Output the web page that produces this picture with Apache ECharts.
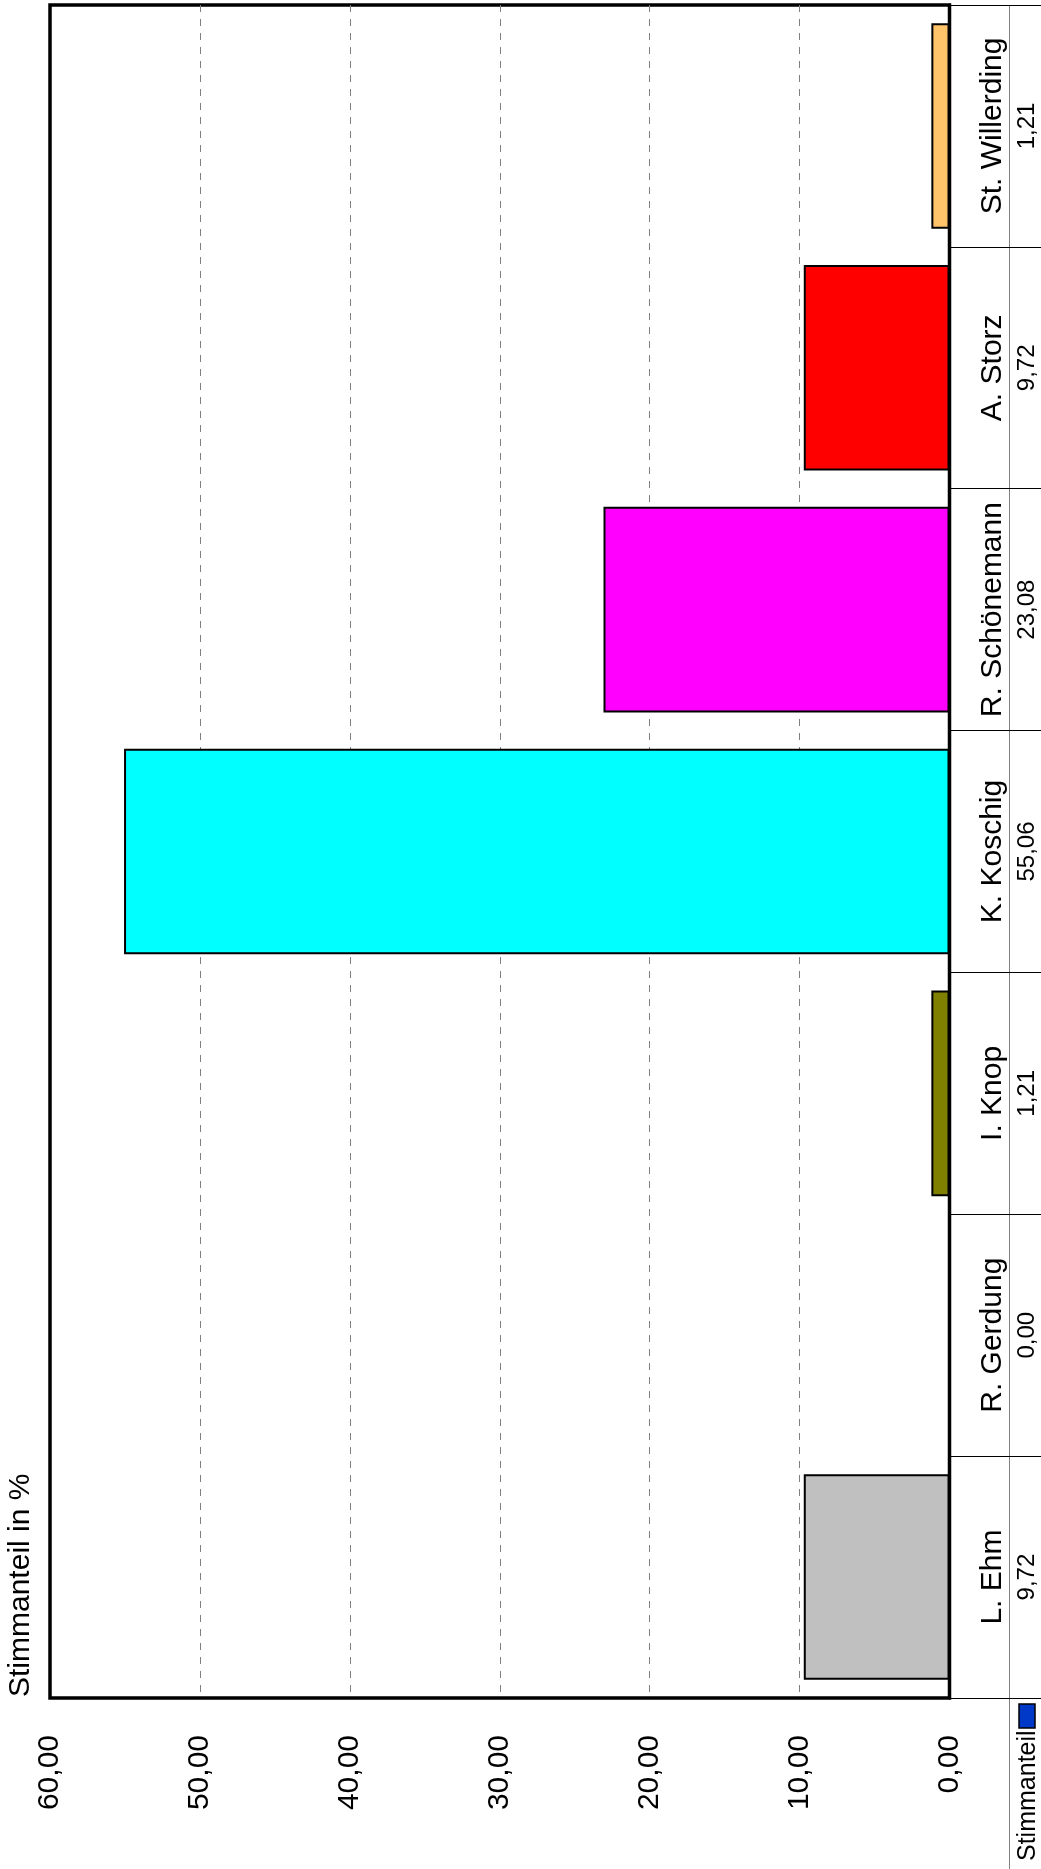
<!DOCTYPE html>
<html>
<head>
<meta charset="utf-8">
<script src="https://cdn.jsdelivr.net/npm/echarts@6/dist/echarts.min.js"></script>
<style>
html,body{margin:0;padding:0;background:#fff;}
#chart{width:1041px;height:1869px;}
</style>
</head>
<body>
<div id="chart"></div>
<script>
const categories = ['L. Ehm', 'R. Gerdung', 'I. Knop', 'K. Koschig', 'R. Schönemann', 'A. Storz', 'St. Willerding'];
const values = [9.72, 0.00, 1.21, 55.06, 23.08, 9.72, 1.21];
const barColors = ['#C0C0C0', '#808080', '#808000', '#00FFFF', '#FF00FF', '#FF0000', '#FFC36A'];
const valueTicks = [0, 10, 20, 30, 40, 50, 60];
const seriesName = 'Stimmanteil';
const axisTitle = 'Stimmanteil in %';

const FONT = '"Liberation Sans", Arial, sans-serif';
const fmt = v => v.toFixed(2).replace('.', ',');

const chart = echarts.init(document.getElementById('chart'), null, {renderer: 'canvas'});
chart.setOption({
  animation: false,
  backgroundColor: '#fff',
  grid: {
    left: 50, top: 5, right: 91.5, bottom: 171,
    show: true, borderColor: '#000', borderWidth: 3.5, backgroundColor: 'transparent',
    containLabel: false
  },
  xAxis: {
    type: 'value',
    inverse: true,
    min: valueTicks[0],
    max: valueTicks[valueTicks.length - 1],
    interval: 10,
    position: 'bottom',
    axisLine: {show: false},
    axisTick: {show: false},
    axisLabel: {
      rotate: 90,
      margin: 37,
      align: 'right',
      verticalAlign: 'middle',
      fontFamily: FONT,
      fontSize: 30,
      color: '#000',
      formatter: v => fmt(v)
    },
    splitLine: {show: true, showMinLine: false, showMaxLine: false,
      lineStyle: {color: '#808080', width: 1, type: [7, 7]}}
  },
  yAxis: {
    type: 'category',
    data: categories,
    position: 'right',
    axisLine: {show: true, lineStyle: {color: '#000', width: 3}},
    axisTick: {show: true, length: 92, lineStyle: {color: '#000', width: 1}},
    splitLine: {show: false},
    axisLabel: {
      interval: 0,
      rotate: 90,
      margin: 25,
      align: 'center',
      verticalAlign: 'top',
      color: '#000',
      fontFamily: FONT,
      formatter: (val, idx) => '{n|' + val + '}\n{v|' + fmt(values[idx]) + '}',
      rich: {
        n: {fontSize: 30, lineHeight: 36, fontFamily: FONT, color: '#000', align: 'center'},
        v: {fontSize: 24, lineHeight: 34, fontFamily: FONT, color: '#000', align: 'center'}
      }
    }
  },
  series: [{
    name: seriesName,
    type: 'bar',
    barCategoryGap: '15%',
    itemStyle: {color: '#0033CC', borderColor: '#000', borderWidth: 2},
    data: values.map((v, i) => ({value: v, itemStyle: {color: barColors[i]}}))
  }],
  graphic: [
    {
      type: 'text',
      x: 21, y: 1697,
      rotation: Math.PI / 2,
      style: {
        text: axisTitle, fill: '#000', fontSize: 30, fontFamily: FONT,
        align: 'left', verticalAlign: 'middle'
      }
    },
    {
      type: 'line',
      shape: {x1: 1009.5, y1: 5, x2: 1009.5, y2: 1869},
      style: {stroke: '#808080', lineWidth: 1}
    },
    {
      type: 'rect',
      shape: {x: 1019, y: 1704, width: 16, height: 24},
      style: {fill: '#0038C8', stroke: '#000', lineWidth: 1.5}
    },
    {
      type: 'text',
      x: 1028, y: 1861,
      rotation: Math.PI / 2,
      style: {
        text: seriesName, fill: '#000', fontSize: 25, fontFamily: FONT,
        align: 'left', verticalAlign: 'middle'
      }
    }
  ]
});
</script>
</body>
</html>
